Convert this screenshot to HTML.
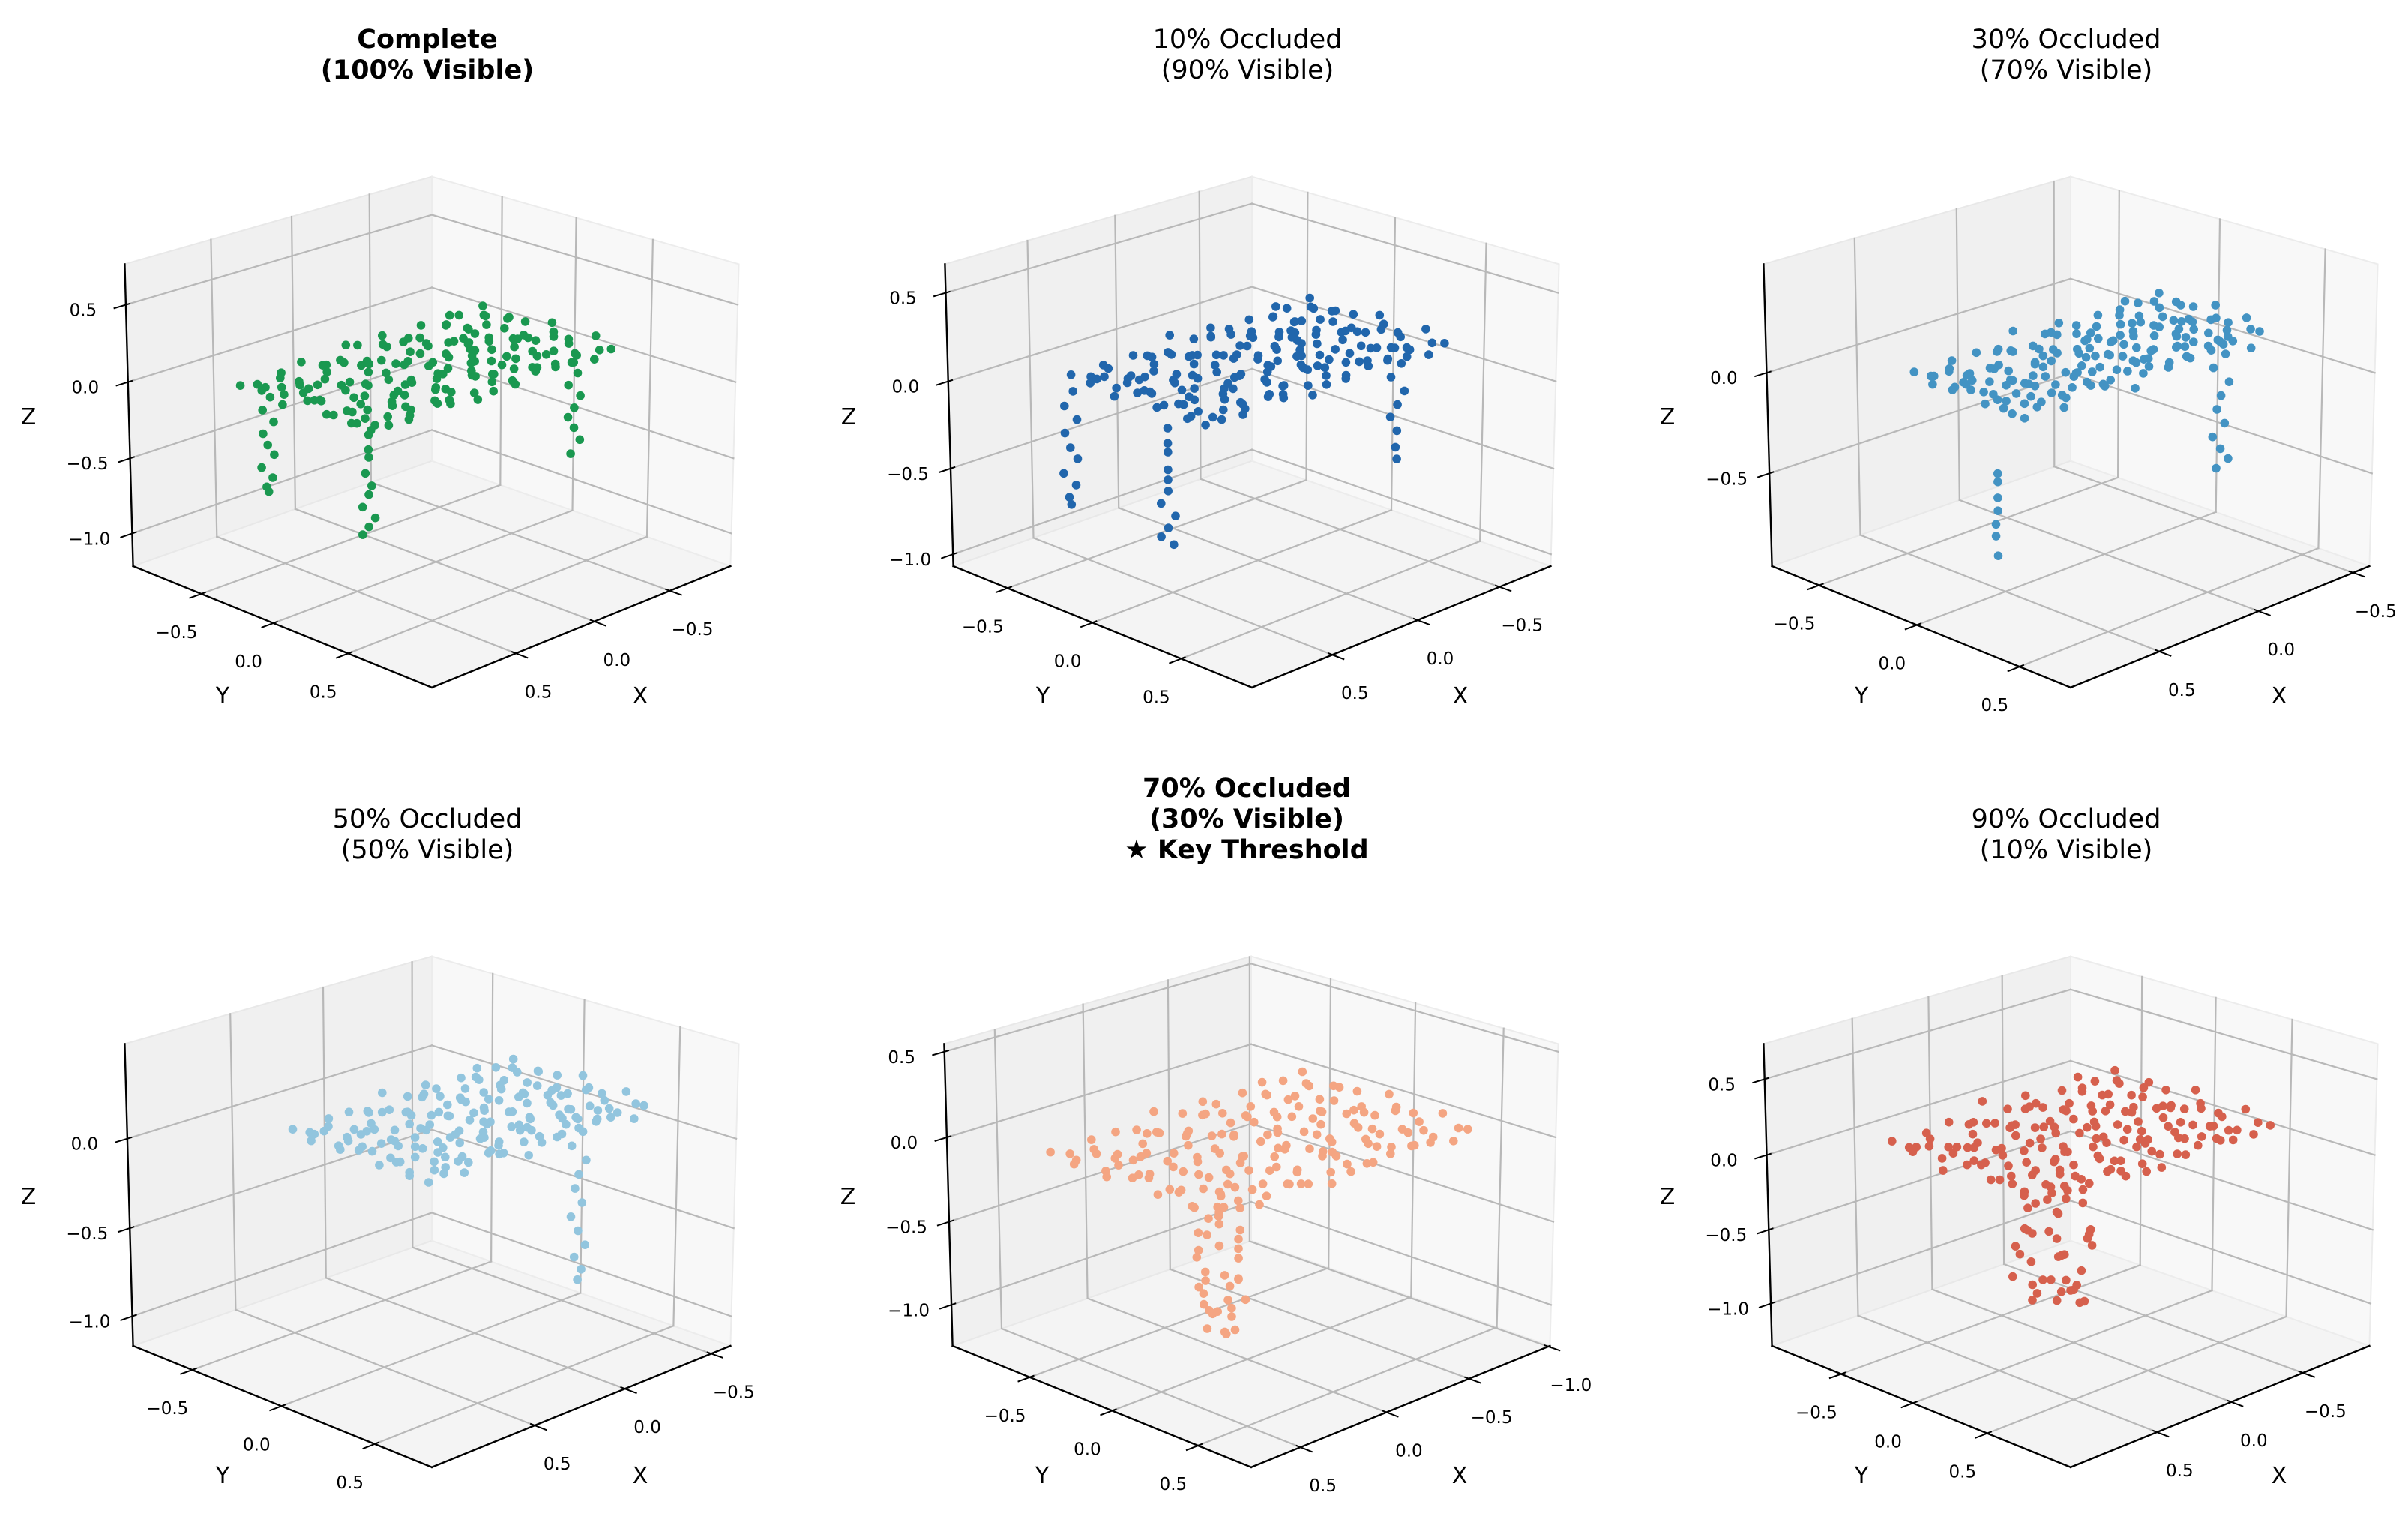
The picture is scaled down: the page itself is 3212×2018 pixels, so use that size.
<!DOCTYPE html>
<html><head><meta charset="utf-8"><title>Point cloud occlusion levels</title>
<style>html,body{margin:0;padding:0;background:#fff}svg{display:block}text{font-family:"DejaVu Sans","Liberation Sans",sans-serif}</style>
</head><body>
<svg id="fig" xmlns="http://www.w3.org/2000/svg" width="3212" height="2018" viewBox="0 0 3212 2018">
<rect x="0" y="0" width="3212" height="2018" fill="#ffffff"/>
</svg>
<script>
// ---------- data ----------
const p1XLim=[-0.915,1.015], p1YLim=[-0.99,1.04], p1ZLim=[-1.22,0.76];
const p2XLim=[-0.823,0.953], p2YLim=[-0.83,0.885], p2ZLim=[-1.07,0.66];
const p3XLim=[-0.588,0.927], p3YLim=[-0.75,0.74], p3ZLim=[-0.97,0.53];
const p4XLim=[-0.614,1.044], p4YLim=[-0.844,0.796], p4ZLim=[-1.17,0.52];
const p5XLim=[-1.01,0.777], p5YLim=[-0.987,0.80], p5ZLim=[-1.25,0.545];
const p6XLim=[-0.98,1.06], p6YLim=[-1.0,1.04], p6ZLim=[-1.29,0.73];

const xyTicks=[-0.5,0,0.5];
const p5XTicks=[-1.0,-0.5,0,0.5];
const zTicksFull=[-1.0,-0.5,0,0.5];
const p3ZTicks=[-0.5,0];
const p4ZTicks=[-1.0,-0.5,0];

const p1X=[-0.73,-0.60,-0.49,-0.34,-0.23,-0.08,0.05,0.16,0.31,0.42,0.57,0.68,0.80,
-0.76,-0.62,-0.47,-0.36,-0.21,-0.10,0.03,0.18,0.29,0.44,0.55,0.70,0.78,
-0.72,-0.63,-0.46,-0.33,-0.24,-0.07,0.06,0.15,0.32,0.41,0.58,0.67,0.81,
-0.75,-0.59,-0.50,-0.37,-0.20,-0.11,0.02,0.19,0.28,0.45,0.54,0.71,0.77,
-0.71,-0.64,-0.48,-0.32,-0.25,-0.08,0.07,0.14,0.33,0.40,0.59,0.66,0.80,
-0.77,-0.60,-0.45,-0.36,-0.19,-0.12,0.05,0.20,0.27,0.46,0.53,0.72,0.76,
-0.73,-0.62,-0.49,-0.34,-0.23,-0.06,0.03,0.18,0.31,0.42,0.57,0.68,0.79,
0.70,0.73,0.69,0.72,0.71,0.68,0.74,0.70,0.72,0.69,
0.70,0.72,0.69,0.73,0.71,0.70,0.72,0.68,0.71,0.73,
-0.59,-0.61,-0.58,-0.62,-0.60,-0.59,-0.61,-0.63,-0.58,
-0.60,-0.58,-0.61,-0.59];
const p1Y=[-0.44,-0.47,-0.42,-0.46,-0.43,-0.45,-0.48,-0.44,-0.41,-0.46,-0.43,-0.47,-0.45,
-0.29,-0.32,-0.27,-0.31,-0.33,-0.28,-0.30,-0.26,-0.31,-0.29,-0.33,-0.28,-0.30,
-0.14,-0.17,-0.12,-0.16,-0.13,-0.18,-0.15,-0.11,-0.16,-0.14,-0.17,-0.13,-0.15,
0.01,-0.02,0.03,-0.01,0.02,-0.03,0.00,0.04,-0.02,0.01,0.03,-0.01,0.02,
0.16,0.13,0.17,0.14,0.18,0.15,0.12,0.16,0.14,0.17,0.13,0.15,0.18,
0.28,0.31,0.27,0.30,0.32,0.26,0.29,0.31,0.28,0.32,0.27,0.30,0.29,
0.42,0.45,0.41,0.44,0.43,0.46,0.41,0.44,0.42,0.45,0.43,0.41,0.44,
-0.36,-0.38,-0.35,-0.39,-0.37,-0.36,-0.38,-0.35,-0.37,-0.39,
0.30,0.32,0.29,0.31,0.33,0.30,0.28,0.32,0.31,0.29,
0.30,0.32,0.29,0.33,0.31,0.28,0.30,0.32,0.31,
-0.36,-0.38,-0.37,-0.35];
const p1Z=[0.10,0.07,0.12,0.09,0.05,0.11,0.08,0.13,0.06,0.10,0.09,0.04,0.08,
0.06,0.11,0.08,0.13,0.09,0.05,0.12,0.07,0.10,0.14,0.06,0.09,0.11,
0.09,0.13,0.05,0.10,0.12,0.08,0.06,0.11,0.14,0.07,0.10,0.12,0.06,
0.12,0.08,0.10,0.06,0.13,0.09,0.11,0.05,0.08,0.12,0.07,0.10,0.13,
0.07,0.10,0.14,0.08,0.06,0.12,0.09,0.13,0.05,0.11,0.08,0.06,0.10,
0.11,0.06,0.09,0.12,0.10,0.07,0.13,0.08,0.11,0.06,0.12,0.09,0.07,
0.08,0.12,0.07,0.10,0.13,0.09,0.06,0.11,0.08,0.13,0.10,0.07,0.12,
0.0,-0.08,-0.16,-0.24,-0.31,-0.38,-0.45,-0.52,-0.58,-0.63,
-0.02,-0.10,-0.17,-0.25,-0.33,-0.40,-0.48,-0.55,-0.60,-0.65,
0.0,-0.07,-0.15,-0.22,-0.30,-0.37,-0.44,-0.52,-0.60,
-0.02,-0.08,-0.14,-0.20];
const p1LowerX=[-0.68,-0.54,-0.43,-0.28,-0.16,-0.01,0.10,0.25,0.36,0.51,0.62,0.75,
-0.66,-0.56,-0.41,-0.30,-0.14,-0.03,0.12,0.23,0.38,0.49,0.64,0.73,
-0.67,-0.55,-0.42,-0.29,-0.15,-0.02,0.11,0.24,0.37,0.50,0.63,0.74,
-0.69,-0.53,-0.44,-0.27,-0.17,0.00,0.09,0.26,0.35,0.52,0.61,0.76,
-0.65,-0.57,-0.40,-0.31,-0.13,-0.04,0.13,0.22,0.39,0.48,0.65,0.72,
-0.68,-0.54,-0.43,-0.28,-0.16,-0.01,0.10,0.25,0.36,0.51,0.62,0.75];
const p1LowerY=[-0.37,-0.35,-0.38,-0.36,-0.39,-0.37,-0.36,-0.38,-0.35,-0.37,-0.38,-0.36,
-0.22,-0.24,-0.21,-0.23,-0.20,-0.22,-0.24,-0.21,-0.23,-0.22,-0.20,-0.23,
-0.07,-0.05,-0.08,-0.06,-0.09,-0.07,-0.05,-0.08,-0.06,-0.07,-0.09,-0.06,
0.08,0.10,0.07,0.09,0.06,0.08,0.10,0.07,0.09,0.08,0.06,0.09,
0.22,0.20,0.23,0.21,0.24,0.22,0.20,0.23,0.21,0.22,0.24,0.21,
0.36,0.38,0.35,0.37,0.34,0.36,0.38,0.35,0.37,0.36,0.34,0.37];
const p1LowerZ=[0.07,0.04,0.09,0.02,0.06,0.10,0.03,0.08,0.05,0.01,0.09,0.06,
0.04,0.09,0.02,0.06,0.10,0.03,0.08,0.05,0.01,0.09,0.06,0.07,
0.02,0.06,0.10,0.03,0.08,0.05,0.01,0.09,0.06,0.07,0.04,0.09,
0.10,0.03,0.08,0.05,0.01,0.09,0.06,0.07,0.04,0.09,0.02,0.06,
0.08,0.05,0.01,0.09,0.06,0.07,0.04,0.09,0.02,0.06,0.10,0.03,
0.01,0.09,0.06,0.07,0.04,0.09,0.02,0.06,0.10,0.03,0.08,0.05];

const p2X=[-0.69,-0.57,-0.47,-0.33,-0.23,-0.09,0.03,0.13,0.27,0.37,0.51,0.60,0.70,
-0.71,-0.59,-0.45,-0.35,-0.21,-0.11,0.01,0.15,0.25,0.39,0.49,0.62,0.69,
-0.68,-0.58,-0.44,-0.32,-0.24,-0.08,0.04,0.12,0.28,0.36,0.52,0.59,0.71,
-0.70,-0.56,-0.48,-0.34,-0.20,-0.12,0.02,0.16,0.24,0.40,0.48,0.63,0.68,
-0.67,-0.60,-0.46,-0.31,-0.23,-0.07,0.05,0.11,0.29,0.35,0.53,0.58,0.70,
-0.72,-0.57,-0.43,-0.36,-0.19,-0.13,0.03,0.17,0.23,0.41,0.47,0.64,0.67,
-0.69,-0.59,-0.47,-0.33,-0.22,-0.06,0.00,0.14,0.27,0.38,0.50,0.61,0.69,
0.70,0.73,0.69,0.72,0.71,0.68,0.74,0.70,0.72,0.69,
0.70,0.72,0.69,0.73,0.71,0.70,0.72,0.68,0.71,0.73,0.70,
-0.63,-0.65,-0.62,-0.66,-0.64,-0.63,-0.65,-0.62,-0.64,
-0.64,-0.62,-0.65,-0.63];
const p2Y=[-0.36,-0.38,-0.35,-0.37,-0.39,-0.36,-0.34,-0.38,-0.37,-0.35,-0.38,-0.36,-0.37,
-0.23,-0.26,-0.22,-0.25,-0.24,-0.21,-0.26,-0.23,-0.25,-0.22,-0.24,-0.26,-0.23,
-0.10,-0.13,-0.09,-0.12,-0.11,-0.14,-0.10,-0.08,-0.12,-0.11,-0.13,-0.09,-0.11,
0.03,0.00,0.04,0.01,0.03,-0.01,0.02,0.05,0.00,0.02,0.04,0.01,0.03,
0.16,0.13,0.17,0.14,0.18,0.15,0.12,0.16,0.14,0.17,0.13,0.15,0.16,
0.27,0.30,0.26,0.29,0.31,0.25,0.28,0.30,0.27,0.31,0.26,0.29,0.28,
0.40,0.42,0.39,0.41,0.40,0.43,0.38,0.41,0.40,0.42,0.41,0.39,0.42,
-0.36,-0.38,-0.35,-0.39,-0.37,-0.36,-0.38,-0.35,-0.37,-0.39,
0.18,0.20,0.17,0.21,0.19,0.18,0.16,0.20,0.19,0.17,0.21,
0.18,0.20,0.17,0.21,0.19,0.16,0.18,0.20,0.19,
-0.36,-0.38,-0.37,-0.35];
const p2Z=[0.12,0.09,0.14,0.10,0.07,0.13,0.11,0.15,0.08,0.12,0.10,0.07,0.11,
0.08,0.13,0.10,0.15,0.11,0.07,0.14,0.09,0.12,0.16,0.08,0.11,0.13,
0.11,0.15,0.07,0.12,0.14,0.10,0.08,0.13,0.16,0.09,0.12,0.14,0.08,
0.14,0.10,0.12,0.08,0.15,0.11,0.13,0.07,0.10,0.14,0.09,0.12,0.15,
0.09,0.12,0.16,0.10,0.08,0.14,0.11,0.15,0.07,0.13,0.10,0.08,0.12,
0.13,0.08,0.11,0.14,0.12,0.09,0.15,0.10,0.13,0.08,0.14,0.11,0.09,
0.10,0.14,0.09,0.12,0.15,0.11,0.08,0.13,0.10,0.15,0.12,0.09,0.14,
0.02,-0.06,-0.14,-0.22,-0.30,-0.37,-0.44,-0.51,-0.58,-0.64,
0.0,-0.07,-0.14,-0.21,-0.28,-0.35,-0.42,-0.49,-0.55,-0.60,-0.64,
0.02,-0.07,-0.15,-0.23,-0.31,-0.39,-0.47,-0.55,-0.63,
0.0,-0.07,-0.14,-0.20];
const p2LowerX=[-0.65,-0.51,-0.41,-0.27,-0.17,-0.03,0.07,0.21,0.31,0.45,0.54,0.67,
-0.63,-0.53,-0.39,-0.29,-0.15,-0.05,0.09,0.19,0.33,0.43,0.56,0.65,
-0.64,-0.52,-0.40,-0.28,-0.16,-0.04,0.08,0.20,0.32,0.44,0.55,0.66,
-0.66,-0.50,-0.42,-0.26,-0.18,-0.02,0.06,0.22,0.30,0.46,0.53,0.68,
-0.62,-0.54,-0.38,-0.30,-0.14,-0.06,0.10,0.18,0.34,0.42,0.57,0.64,
-0.65,-0.51,-0.41,-0.27,-0.17,-0.03,0.07,0.21,0.31,0.45,0.54,0.67];
const p2LowerY=[-0.30,-0.28,-0.31,-0.29,-0.32,-0.30,-0.28,-0.31,-0.29,-0.30,-0.32,-0.29,
-0.17,-0.15,-0.18,-0.16,-0.19,-0.17,-0.15,-0.18,-0.16,-0.17,-0.19,-0.16,
-0.04,-0.02,-0.05,-0.03,-0.06,-0.04,-0.02,-0.05,-0.03,-0.04,-0.06,-0.03,
0.09,0.11,0.08,0.10,0.07,0.09,0.11,0.08,0.10,0.09,0.07,0.10,
0.22,0.24,0.21,0.23,0.20,0.22,0.24,0.21,0.23,0.22,0.20,0.23,
0.35,0.37,0.34,0.36,0.33,0.35,0.37,0.34,0.36,0.35,0.33,0.36];
const p2LowerZ=[0.09,0.06,0.11,0.04,0.08,0.12,0.05,0.10,0.07,0.03,0.11,0.08,
0.06,0.11,0.04,0.08,0.12,0.05,0.10,0.07,0.03,0.11,0.08,0.09,
0.04,0.08,0.12,0.05,0.10,0.07,0.03,0.11,0.08,0.09,0.06,0.11,
0.12,0.05,0.10,0.07,0.03,0.11,0.08,0.09,0.06,0.11,0.04,0.08,
0.10,0.07,0.03,0.11,0.08,0.09,0.06,0.11,0.04,0.08,0.12,0.05,
0.03,0.11,0.08,0.09,0.06,0.11,0.04,0.08,0.12,0.05,0.10,0.07];

const p3X=[-0.55,-0.46,-0.36,-0.24,-0.15,-0.03,0.06,0.18,0.27,0.39,0.48,0.60,0.67,
-0.57,-0.45,-0.34,-0.26,-0.13,-0.05,0.08,0.16,0.29,0.37,0.50,0.58,0.68,
-0.54,-0.47,-0.35,-0.23,-0.16,-0.02,0.05,0.19,0.26,0.40,0.47,0.61,0.66,
-0.56,-0.44,-0.37,-0.25,-0.12,-0.06,0.09,0.15,0.30,0.36,0.51,0.57,0.69,
-0.53,-0.46,-0.33,-0.27,-0.14,-0.01,0.06,0.20,0.25,0.41,0.46,0.62,0.65,
-0.55,-0.43,-0.36,-0.22,-0.15,-0.04,0.10,0.14,0.31,0.35,0.52,0.56,0.68,
-0.52,-0.45,-0.34,-0.24,-0.13,-0.03,0.07,0.17,0.28,0.38,0.49,0.59,0.67,
-0.41,-0.43,-0.40,-0.44,-0.42,-0.41,-0.43,-0.40,-0.42,-0.44,-0.41,
0.70,0.70,0.71,0.70,0.70,0.71,0.70];
const p3Y=[-0.26,-0.28,-0.25,-0.27,-0.29,-0.26,-0.24,-0.28,-0.27,-0.25,-0.28,-0.26,-0.27,
-0.17,-0.19,-0.16,-0.18,-0.17,-0.15,-0.19,-0.17,-0.18,-0.16,-0.17,-0.19,-0.16,
-0.08,-0.10,-0.07,-0.09,-0.08,-0.11,-0.09,-0.07,-0.10,-0.08,-0.10,-0.07,-0.09,
0.01,-0.01,0.02,0.00,0.02,-0.02,0.01,0.03,-0.01,0.01,0.02,0.00,0.01,
0.10,0.08,0.11,0.09,0.10,0.08,0.07,0.10,0.09,0.11,0.08,0.09,0.10,
0.17,0.19,0.16,0.18,0.20,0.17,0.18,0.19,0.16,0.18,0.17,0.19,0.18,
0.26,0.28,0.25,0.27,0.26,0.28,0.25,0.27,0.26,0.28,0.27,0.25,0.27,
0.16,0.18,0.15,0.19,0.17,0.16,0.18,0.15,0.17,0.19,0.16,
0.17,0.17,0.18,0.17,0.16,0.17,0.17];
const p3Z=[0.09,0.06,0.11,0.07,0.04,0.10,0.08,0.12,0.05,0.09,0.07,0.04,0.08,
0.05,0.10,0.07,0.12,0.08,0.04,0.11,0.06,0.09,0.13,0.05,0.08,0.10,
0.08,0.12,0.04,0.09,0.11,0.07,0.05,0.10,0.13,0.06,0.09,0.11,0.05,
0.11,0.07,0.09,0.05,0.12,0.08,0.10,0.04,0.07,0.11,0.06,0.09,0.12,
0.06,0.09,0.13,0.07,0.05,0.11,0.08,0.12,0.04,0.10,0.07,0.05,0.09,
0.10,0.05,0.08,0.11,0.09,0.06,0.12,0.07,0.10,0.05,0.11,0.08,0.06,
0.07,0.11,0.06,0.09,0.12,0.08,0.05,0.10,0.07,0.12,0.09,0.06,0.11,
0.03,-0.04,-0.11,-0.18,-0.25,-0.32,-0.39,-0.46,-0.52,-0.57,-0.62,
-0.25,-0.29,-0.36,-0.43,-0.50,-0.55,-0.65];
const p3LowerX=[-0.51,-0.39,-0.31,-0.18,-0.10,0.02,0.11,0.23,0.32,0.44,0.53,0.64,
-0.49,-0.41,-0.29,-0.20,-0.08,0.00,0.13,0.21,0.34,0.42,0.55,0.62,
-0.50,-0.40,-0.30,-0.19,-0.09,0.01,0.12,0.22,0.33,0.43,0.54,0.63,
-0.52,-0.38,-0.32,-0.17,-0.11,0.03,0.10,0.24,0.31,0.45,0.52,0.65,
-0.48,-0.42,-0.28,-0.21,-0.07,-0.01,0.14,0.20,0.35,0.41,0.56,0.61,
-0.51,-0.39,-0.31,-0.18,-0.10,0.02,0.11,0.23,0.32,0.44,0.53,0.64];
const p3LowerY=[-0.22,-0.20,-0.23,-0.21,-0.24,-0.22,-0.20,-0.23,-0.21,-0.22,-0.24,-0.21,
-0.13,-0.11,-0.14,-0.12,-0.15,-0.13,-0.11,-0.14,-0.12,-0.13,-0.15,-0.12,
-0.04,-0.02,-0.05,-0.03,-0.06,-0.04,-0.02,-0.05,-0.03,-0.04,-0.06,-0.03,
0.05,0.07,0.04,0.06,0.03,0.05,0.07,0.04,0.06,0.05,0.03,0.06,
0.14,0.16,0.13,0.15,0.12,0.14,0.16,0.13,0.15,0.14,0.12,0.15,
0.23,0.25,0.22,0.24,0.21,0.23,0.25,0.22,0.24,0.23,0.21,0.24];
const p3LowerZ=[0.04,0.01,0.06,-0.01,0.03,0.07,0.00,0.05,0.02,-0.02,0.06,0.03,
0.01,0.06,-0.01,0.03,0.07,0.00,0.05,0.02,-0.02,0.06,0.03,0.04,
-0.01,0.03,0.07,0.00,0.05,0.02,-0.02,0.06,0.03,0.04,0.01,0.06,
0.07,0.00,0.05,0.02,-0.02,0.06,0.03,0.04,0.01,0.06,-0.01,0.03,
0.05,0.02,-0.02,0.06,0.03,0.04,0.01,0.06,-0.01,0.03,0.07,0.00,
-0.02,0.06,0.03,0.04,0.01,0.06,-0.01,0.03,0.07,0.00,0.05,0.02];

const p4X=[-0.59,-0.51,-0.37,-0.30,-0.18,-0.09,0.03,0.13,0.22,0.34,0.42,0.54,0.62,
-0.61,-0.49,-0.40,-0.27,-0.20,-0.07,0.01,0.14,0.21,0.35,0.41,0.55,0.63,
-0.58,-0.50,-0.38,-0.28,-0.17,-0.10,0.04,0.11,0.24,0.32,0.45,0.52,0.61,
-0.60,-0.48,-0.41,-0.29,-0.21,-0.06,0.02,0.12,0.25,0.31,0.44,0.51,0.63,
-0.57,-0.51,-0.36,-0.31,-0.16,-0.08,0.05,0.10,0.22,0.36,0.41,0.56,0.60,
-0.59,-0.47,-0.39,-0.26,-0.19,-0.05,0.03,0.15,0.20,0.34,0.46,0.50,0.62,
-0.56,-0.49,-0.38,-0.28,-0.18,-0.07,0.01,0.13,0.23,0.32,0.43,0.54,0.61,
-0.30,-0.32,-0.29,-0.33,-0.31,-0.30,-0.32,-0.29,-0.31,-0.33,-0.30,-0.32,-0.31];
const p4Y=[-0.36,-0.38,-0.35,-0.37,-0.39,-0.36,-0.34,-0.38,-0.37,-0.35,-0.38,-0.36,-0.37,
-0.24,-0.27,-0.23,-0.26,-0.25,-0.22,-0.27,-0.24,-0.26,-0.23,-0.25,-0.27,-0.24,
-0.11,-0.14,-0.10,-0.13,-0.12,-0.15,-0.11,-0.09,-0.13,-0.12,-0.14,-0.10,-0.12,
0.01,-0.02,0.02,0.00,0.03,-0.01,0.01,0.03,-0.02,0.01,0.02,0.00,0.02,
0.14,0.11,0.15,0.12,0.14,0.12,0.11,0.14,0.13,0.15,0.12,0.13,0.14,
0.25,0.27,0.24,0.26,0.28,0.25,0.26,0.27,0.24,0.26,0.25,0.27,0.26,
0.37,0.39,0.36,0.38,0.37,0.39,0.36,0.38,0.37,0.39,0.38,0.36,0.38,
0.25,0.27,0.24,0.28,0.26,0.25,0.27,0.24,0.26,0.28,0.25,0.27,0.26];
const p4Z=[0.08,0.05,0.10,0.06,0.03,0.09,0.07,0.11,0.04,0.08,0.06,0.03,0.07,
0.04,0.09,0.06,0.11,0.07,0.03,0.10,0.05,0.08,0.12,0.04,0.07,0.09,
0.07,0.11,0.03,0.08,0.10,0.06,0.04,0.09,0.12,0.05,0.08,0.10,0.04,
0.10,0.06,0.08,0.04,0.11,0.07,0.09,0.03,0.06,0.10,0.05,0.08,0.11,
0.05,0.08,0.12,0.06,0.04,0.10,0.07,0.11,0.03,0.09,0.06,0.04,0.08,
0.09,0.04,0.07,0.10,0.08,0.05,0.11,0.06,0.09,0.04,0.10,0.07,0.05,
0.06,0.10,0.05,0.08,0.11,0.07,0.04,0.09,0.06,0.11,0.08,0.05,0.10,
0.04,-0.04,-0.12,-0.20,-0.28,-0.36,-0.44,-0.52,-0.60,-0.68,-0.75,-0.82,-0.88];
const p4LowerX=[-0.56,-0.44,-0.35,-0.23,-0.14,-0.02,0.06,0.19,0.27,0.39,0.47,0.59,
-0.54,-0.46,-0.33,-0.25,-0.12,-0.04,0.08,0.17,0.29,0.37,0.49,0.57,
-0.55,-0.45,-0.34,-0.24,-0.13,-0.03,0.07,0.18,0.28,0.38,0.48,0.58,
-0.57,-0.43,-0.36,-0.22,-0.15,-0.01,0.05,0.20,0.26,0.40,0.46,0.60,
-0.53,-0.47,-0.32,-0.26,-0.11,-0.05,0.09,0.16,0.30,0.36,0.50,0.56,
-0.56,-0.44,-0.35,-0.23,-0.14,-0.02,0.06,0.19,0.27,0.39,0.47,0.59];
const p4LowerY=[-0.31,-0.29,-0.32,-0.30,-0.33,-0.31,-0.29,-0.32,-0.30,-0.31,-0.33,-0.30,
-0.18,-0.16,-0.19,-0.17,-0.20,-0.18,-0.16,-0.19,-0.17,-0.18,-0.20,-0.17,
-0.06,-0.04,-0.07,-0.05,-0.08,-0.06,-0.04,-0.07,-0.05,-0.06,-0.08,-0.05,
0.07,0.09,0.06,0.08,0.05,0.07,0.09,0.06,0.08,0.07,0.05,0.08,
0.19,0.21,0.18,0.20,0.17,0.19,0.21,0.18,0.20,0.19,0.17,0.20,
0.32,0.34,0.31,0.33,0.30,0.32,0.34,0.31,0.33,0.32,0.30,0.33];
const p4LowerZ=[0.03,0.00,0.05,-0.02,0.02,0.06,-0.01,0.04,0.01,-0.03,0.05,0.02,
0.00,0.05,-0.02,0.02,0.06,-0.01,0.04,0.01,-0.03,0.05,0.02,0.03,
-0.02,0.02,0.06,-0.01,0.04,0.01,-0.03,0.05,0.02,0.03,0.00,0.05,
0.06,-0.01,0.04,0.01,-0.03,0.05,0.02,0.03,0.00,0.05,-0.02,0.02,
0.04,0.01,-0.03,0.05,0.02,0.03,0.00,0.05,-0.02,0.02,0.06,-0.01,
-0.03,0.05,0.02,0.03,0.00,0.05,-0.02,0.02,0.06,-0.01,0.04,0.01];

const p5X=[-0.94,-0.84,-0.68,-0.58,-0.44,-0.33,-0.19,-0.06,0.05,0.19,0.30,0.44,0.54,
-0.96,-0.82,-0.71,-0.56,-0.46,-0.31,-0.21,-0.08,0.07,0.17,0.32,0.42,0.56,
-0.93,-0.85,-0.69,-0.59,-0.43,-0.34,-0.18,-0.09,0.08,0.16,0.33,0.41,0.54,
-0.95,-0.81,-0.72,-0.55,-0.47,-0.30,-0.22,-0.05,0.04,0.20,0.29,0.45,0.53,
-0.92,-0.84,-0.67,-0.60,-0.42,-0.35,-0.17,-0.10,0.06,0.21,0.28,0.46,0.52,
-0.94,-0.80,-0.70,-0.54,-0.45,-0.29,-0.20,-0.04,0.09,0.15,0.34,0.40,0.55,
-0.91,-0.83,-0.69,-0.57,-0.44,-0.31,-0.21,-0.07,0.05,0.18,0.30,0.43,0.54,
0.30,0.38,0.27,0.35,0.41,0.29,0.33,0.37,0.25,0.40,0.31,0.36,0.28,0.34,0.39,0.30,0.33,0.26,0.37,0.32];
const p5Y=[-0.60,-0.62,-0.59,-0.61,-0.63,-0.60,-0.58,-0.62,-0.61,-0.59,-0.62,-0.60,-0.61,
-0.43,-0.46,-0.42,-0.45,-0.44,-0.41,-0.46,-0.43,-0.45,-0.42,-0.44,-0.46,-0.43,
-0.26,-0.29,-0.25,-0.28,-0.27,-0.30,-0.26,-0.24,-0.28,-0.27,-0.29,-0.25,-0.27,
-0.09,-0.12,-0.08,-0.11,-0.08,-0.12,-0.10,-0.07,-0.12,-0.09,-0.08,-0.11,-0.09,
0.08,0.05,0.09,0.06,0.08,0.06,0.05,0.08,0.07,0.09,0.06,0.07,0.08,
0.23,0.25,0.22,0.24,0.26,0.23,0.24,0.25,0.22,0.24,0.23,0.25,0.24,
0.40,0.42,0.39,0.41,0.40,0.42,0.39,0.41,0.40,0.42,0.41,0.39,0.41,
0.15,0.22,0.10,0.19,0.13,0.24,0.17,0.09,0.20,0.16,0.26,0.12,0.18,0.23,0.14,0.21,0.11,0.17,0.25,0.19];
const p5Z=[-0.03,-0.06,-0.01,-0.05,-0.08,-0.02,-0.04,0.00,-0.07,-0.03,-0.05,-0.08,-0.04,
-0.07,-0.02,-0.05,0.00,-0.04,-0.08,-0.01,-0.06,-0.03,0.01,-0.07,-0.04,-0.02,
-0.04,0.00,-0.08,-0.03,-0.01,-0.05,-0.07,-0.02,0.01,-0.06,-0.03,-0.01,-0.07,
-0.01,-0.05,-0.03,-0.07,0.00,-0.04,-0.02,-0.08,-0.05,-0.01,-0.06,-0.03,0.00,
-0.06,-0.03,0.01,-0.05,-0.07,-0.01,-0.04,0.00,-0.08,-0.02,-0.05,-0.07,-0.03,
-0.02,-0.07,-0.04,-0.01,-0.03,-0.06,0.00,-0.05,-0.02,-0.07,-0.01,-0.04,-0.06,
-0.05,-0.01,-0.06,-0.03,0.00,-0.04,-0.07,-0.02,-0.05,0.00,-0.03,-0.06,-0.01,
-0.12,-0.16,-0.21,-0.25,-0.30,-0.34,-0.39,-0.43,-0.48,-0.52,-0.56,-0.60,-0.64,-0.68,-0.72,-0.75,-0.79,-0.83,-0.86,-0.89];
const p5LowerX=[-0.90,-0.75,-0.65,-0.50,-0.39,-0.25,-0.14,0.01,0.11,0.26,0.36,0.50,
-0.88,-0.77,-0.63,-0.52,-0.37,-0.27,-0.12,-0.01,0.13,0.24,0.38,0.48,
-0.89,-0.76,-0.64,-0.51,-0.38,-0.26,-0.13,0.00,0.12,0.25,0.37,0.49,
-0.91,-0.74,-0.66,-0.49,-0.40,-0.24,-0.15,0.02,0.10,0.27,0.35,0.51,
-0.87,-0.78,-0.62,-0.53,-0.36,-0.28,-0.11,-0.02,0.14,0.23,0.39,0.47,
-0.90,-0.75,-0.65,-0.50,-0.39,-0.25,-0.14,0.01,0.11,0.26,0.36,0.50];
const p5LowerY=[-0.52,-0.50,-0.53,-0.51,-0.54,-0.52,-0.50,-0.53,-0.51,-0.52,-0.54,-0.51,
-0.35,-0.33,-0.36,-0.34,-0.37,-0.35,-0.33,-0.36,-0.34,-0.35,-0.37,-0.34,
-0.18,-0.16,-0.19,-0.17,-0.20,-0.18,-0.16,-0.19,-0.17,-0.18,-0.20,-0.17,
-0.01,0.01,-0.02,0.00,-0.03,-0.01,0.01,-0.02,0.00,-0.01,-0.03,0.00,
0.16,0.18,0.15,0.17,0.14,0.16,0.18,0.15,0.17,0.16,0.14,0.17,
0.33,0.35,0.32,0.34,0.31,0.33,0.35,0.32,0.34,0.33,0.31,0.34];
const p5LowerZ=[-0.08,-0.11,-0.06,-0.13,-0.09,-0.05,-0.12,-0.07,-0.10,-0.14,-0.06,-0.09,
-0.11,-0.06,-0.13,-0.09,-0.05,-0.12,-0.07,-0.10,-0.14,-0.06,-0.09,-0.08,
-0.13,-0.09,-0.05,-0.12,-0.07,-0.10,-0.14,-0.06,-0.09,-0.08,-0.11,-0.06,
-0.05,-0.12,-0.07,-0.10,-0.14,-0.06,-0.09,-0.08,-0.11,-0.06,-0.13,-0.09,
-0.07,-0.10,-0.14,-0.06,-0.09,-0.08,-0.11,-0.06,-0.13,-0.09,-0.05,-0.12,
-0.14,-0.06,-0.09,-0.08,-0.11,-0.06,-0.13,-0.09,-0.05,-0.12,-0.07,-0.10];
const p5LegX=[0.24,0.42,0.31,0.36,0.27,0.39,0.33,0.29,0.44,0.35,0.26,0.38,0.32,0.41,0.30];
const p5LegY=[0.08,0.20,0.27,0.13,0.22,0.10,0.28,0.16,0.19,0.07,0.25,0.21,0.12,0.18,0.23];
const p5LegZ=[-0.14,-0.19,-0.27,-0.33,-0.41,-0.46,-0.54,-0.58,-0.62,-0.66,-0.70,-0.74,-0.81,-0.84,-0.87];

const p6X=[-0.78,-0.67,-0.51,-0.42,-0.27,-0.16,-0.02,0.11,0.21,0.36,0.47,0.61,0.71,
-0.80,-0.64,-0.54,-0.39,-0.29,-0.13,-0.04,0.12,0.20,0.37,0.46,0.62,0.73,
-0.77,-0.68,-0.52,-0.40,-0.26,-0.17,-0.01,0.09,0.24,0.34,0.50,0.58,0.72,
-0.79,-0.65,-0.55,-0.41,-0.30,-0.14,-0.05,0.11,0.23,0.33,0.49,0.61,0.70,
-0.76,-0.67,-0.51,-0.43,-0.27,-0.15,-0.02,0.08,0.22,0.36,0.46,0.62,0.71,
-0.78,-0.64,-0.54,-0.40,-0.28,-0.13,-0.04,0.10,0.21,0.35,0.48,0.59,0.72,
-0.77,-0.66,-0.52,-0.41,-0.29,-0.16,-0.03,0.12,0.22,0.34,0.47,0.60,0.71,
0.45,0.62,0.38,0.55,0.70,0.48,0.60,0.41,0.66,0.52,0.57,0.44,0.68,0.50,0.63,0.47,0.58,0.53,0.42,0.65,0.56,0.49];
const p6Y=[-0.49,-0.52,-0.48,-0.50,-0.53,-0.49,-0.47,-0.51,-0.50,-0.48,-0.52,-0.49,-0.50,
-0.31,-0.34,-0.30,-0.33,-0.32,-0.29,-0.34,-0.31,-0.33,-0.30,-0.32,-0.34,-0.31,
-0.13,-0.16,-0.12,-0.15,-0.14,-0.17,-0.13,-0.11,-0.15,-0.14,-0.16,-0.12,-0.14,
0.05,0.02,0.06,0.03,0.05,0.01,0.04,0.07,0.02,0.04,0.06,0.03,0.05,
0.23,0.20,0.24,0.21,0.23,0.21,0.20,0.23,0.22,0.24,0.21,0.22,0.23,
0.39,0.41,0.38,0.40,0.42,0.39,0.40,0.41,0.38,0.40,0.39,0.41,0.40,
0.56,0.58,0.55,0.57,0.56,0.58,0.55,0.57,0.56,0.58,0.57,0.55,0.57,
0.30,0.52,0.44,0.25,0.40,0.58,0.33,0.50,0.28,0.46,0.62,0.36,0.48,0.22,0.55,0.42,0.31,0.60,0.27,0.38,0.45,0.53];
const p6Z=[0.15,0.10,0.19,0.12,0.07,0.17,0.13,0.21,0.09,0.16,0.11,0.07,0.14,
0.08,0.17,0.12,0.20,0.13,0.07,0.18,0.10,0.15,0.22,0.08,0.13,0.17,
0.13,0.20,0.06,0.14,0.18,0.11,0.08,0.16,0.21,0.09,0.14,0.18,0.07,
0.18,0.11,0.15,0.08,0.19,0.13,0.16,0.06,0.11,0.18,0.09,0.14,0.19,
0.09,0.14,0.20,0.10,0.07,0.17,0.12,0.19,0.06,0.15,0.10,0.07,0.13,
0.16,0.07,0.12,0.18,0.14,0.09,0.20,0.11,0.15,0.07,0.17,0.12,0.09,
0.11,0.17,0.09,0.13,0.19,0.12,0.07,0.15,0.10,0.19,0.14,0.08,0.16,
0.02,-0.02,-0.06,-0.10,-0.14,-0.18,-0.22,-0.26,-0.30,-0.34,-0.37,-0.41,-0.44,-0.48,-0.51,-0.54,-0.57,-0.59,-0.61,-0.62,-0.63,-0.64];
const p6LowerX=[-0.73,-0.59,-0.48,-0.33,-0.22,-0.08,0.03,0.17,0.28,0.43,0.53,0.67,
-0.71,-0.61,-0.46,-0.35,-0.20,-0.10,0.05,0.15,0.30,0.41,0.55,0.65,
-0.72,-0.60,-0.47,-0.34,-0.21,-0.09,0.04,0.16,0.29,0.42,0.54,0.66,
-0.74,-0.58,-0.49,-0.32,-0.23,-0.07,0.02,0.18,0.27,0.44,0.52,0.68,
-0.70,-0.62,-0.45,-0.36,-0.19,-0.11,0.06,0.14,0.31,0.40,0.56,0.64,
-0.73,-0.59,-0.48,-0.33,-0.22,-0.08,0.03,0.17,0.28,0.43,0.53,0.67];
const p6LowerY=[-0.41,-0.39,-0.42,-0.40,-0.43,-0.41,-0.39,-0.42,-0.40,-0.41,-0.43,-0.40,
-0.23,-0.21,-0.24,-0.22,-0.25,-0.23,-0.21,-0.24,-0.22,-0.23,-0.25,-0.22,
-0.05,-0.03,-0.06,-0.04,-0.07,-0.05,-0.03,-0.06,-0.04,-0.05,-0.07,-0.04,
0.13,0.15,0.12,0.14,0.11,0.13,0.15,0.12,0.14,0.13,0.11,0.14,
0.31,0.33,0.30,0.32,0.29,0.31,0.33,0.30,0.32,0.31,0.29,0.32,
0.49,0.51,0.48,0.50,0.47,0.49,0.51,0.48,0.50,0.49,0.47,0.50];
const p6LowerZ=[0.10,0.07,0.12,0.05,0.09,0.13,0.06,0.11,0.08,0.04,0.12,0.09,
0.07,0.12,0.05,0.09,0.13,0.06,0.11,0.08,0.04,0.12,0.09,0.10,
0.05,0.09,0.13,0.06,0.11,0.08,0.04,0.12,0.09,0.10,0.07,0.12,
0.13,0.06,0.11,0.08,0.04,0.12,0.09,0.10,0.07,0.12,0.05,0.09,
0.11,0.08,0.04,0.12,0.09,0.10,0.07,0.12,0.05,0.09,0.13,0.06,
0.04,0.12,0.09,0.10,0.07,0.12,0.05,0.09,0.13,0.06,0.11,0.08];
const p6BlobX=[0.40,0.58,0.51,0.67,0.46,0.61,0.54,0.43,0.69,0.49,0.59,0.64,0.52,0.45,0.56];
const p6BlobY=[0.36,0.47,0.26,0.51,0.57,0.29,0.43,0.55,0.34,0.39,0.61,0.24,0.50,0.45,0.32];
const p6BlobZ=[0.00,-0.04,-0.08,-0.12,-0.16,-0.20,-0.24,-0.28,-0.32,-0.39,-0.46,-0.52,-0.56,-0.60,-0.63];

// ---------- rendering ----------
const NS='http://www.w3.org/2000/svg';
const svg=document.getElementById('fig');
const S=142.8, EL=20*Math.PI/180, CE=Math.cos(EL), SE=Math.sin(EL), DIST=37;

const panels=[
 {key:'complete',title:['Complete','(100% Visible)'],bold:true,cx:576,cy:556.5,xl:p1XLim,yl:p1YLim,zl:p1ZLim,xt:xyTicks,yt:xyTicks,zt:zTicksFull,color:'#1a9850',
  X:p1X.concat(p1LowerX),Y:p1Y.concat(p1LowerY),Z:p1Z.concat(p1LowerZ)},
 {key:'occluded-10',title:['10% Occluded','(90% Visible)'],bold:false,cx:1670,cy:556.5,xl:p2XLim,yl:p2YLim,zl:p2ZLim,xt:xyTicks,yt:xyTicks,zt:zTicksFull,color:'#2166ac',
  X:p2X.concat(p2LowerX),Y:p2Y.concat(p2LowerY),Z:p2Z.concat(p2LowerZ)},
 {key:'occluded-30',title:['30% Occluded','(70% Visible)'],bold:false,cx:2762,cy:556.5,xl:p3XLim,yl:p3YLim,zl:p3ZLim,xt:xyTicks,yt:xyTicks,zt:p3ZTicks,color:'#4393c3',
  X:p3X.concat(p3LowerX),Y:p3Y.concat(p3LowerY),Z:p3Z.concat(p3LowerZ)},
 {key:'occluded-50',title:['50% Occluded','(50% Visible)'],bold:false,cx:576,cy:1596.5,xl:p4XLim,yl:p4YLim,zl:p4ZLim,xt:xyTicks,yt:xyTicks,zt:p4ZTicks,color:'#92c5de',
  X:p4X.concat(p4LowerX),Y:p4Y.concat(p4LowerY),Z:p4Z.concat(p4LowerZ)},
 {key:'occluded-70',title:['70% Occluded','(30% Visible)','\u2605 Key Threshold'],bold:true,cx:1669,cy:1596.5,xl:p5XLim,yl:p5YLim,zl:p5ZLim,xt:p5XTicks,yt:xyTicks,zt:zTicksFull,color:'#f4a582',
  X:p5X.concat(p5LowerX,p5LegX),Y:p5Y.concat(p5LowerY,p5LegY),Z:p5Z.concat(p5LowerZ,p5LegZ)},
 {key:'occluded-90',title:['90% Occluded','(10% Visible)'],bold:false,cx:2762,cy:1596.5,xl:p6XLim,yl:p6YLim,zl:p6ZLim,xt:xyTicks,yt:xyTicks,zt:zTicksFull,color:'#d6604d',
  X:p6X.concat(p6LowerX,p6BlobX),Y:p6Y.concat(p6LowerY,p6BlobY),Z:p6Z.concat(p6LowerZ,p6BlobZ)}
];

function mk(tag,attrs,parent){const e=document.createElementNS(NS,tag);for(const k in attrs)e.setAttribute(k,attrs[k]);parent.appendChild(e);return e;}
function fmt(v){const s=Math.abs(v).toFixed(1);return v<-1e-9?'\u2212'+s:s;}

function projector(P){
 return function(x,y,z){
  const u=-2+4*(x-P.xl[0])/(P.xl[1]-P.xl[0]);
  const v=-2+4*(y-P.yl[0])/(P.yl[1]-P.yl[0]);
  const w=-1.5+3*(z-P.zl[0])/(P.zl[1]-P.zl[0]);
  const sx=(v-u)*0.70711, d=(u+v)*0.70711;
  const sy=w*CE-d*SE, dv=d*CE+w*SE, f=DIST/(DIST-dv);
  return [P.cx+S*f*sx, P.cy-S*f*sy, dv];
 };
}

panels.forEach(function(P){
 const pr=projector(P);
 const [x0,x1]=P.xl,[y0,y1]=P.yl,[z0,z1]=P.zl;
 const g=mk('g',{},svg);
 
 
 const poly=pts=>pts.map(p=>{const q=pr(p[0],p[1],p[2]);return q[0].toFixed(1)+','+q[1].toFixed(1);}).join(' ');
 const floor=mk('polygon',{points:poly([[x0,y0,z0],[x1,y0,z0],[x1,y1,z0],[x0,y1,z0]]),fill:'#f4f4f4',stroke:'#ececec','stroke-width':2},g);
 
 
 const lw=mk('polygon',{points:poly([[x0,y0,z0],[x1,y0,z0],[x1,y0,z1],[x0,y0,z1]]),fill:'#f0f0f0',stroke:'#e8e8e8','stroke-width':2},g);
 
 
 const rw=mk('polygon',{points:poly([[x0,y0,z0],[x0,y1,z0],[x0,y1,z1],[x0,y0,z1]]),fill:'#f8f8f8',stroke:'#ececec','stroke-width':2},g);
 
 
 const line=(a,b,st,sw)=>{const p=pr(a[0],a[1],a[2]),q=pr(b[0],b[1],b[2]);return mk('line',{x1:p[0].toFixed(1),y1:p[1].toFixed(1),x2:q[0].toFixed(1),y2:q[1].toFixed(1),stroke:st,'stroke-width':sw,'stroke-linecap':'square'},g);};
 P.xt.forEach(t=>{
  const a=line([t,y0,z0],[t,y1,z0],'#b8b8b8',2.2);
  
  
  const b=line([t,y0,z0],[t,y0,z1],'#b8b8b8',2.2);
  
  
 });
 P.yt.forEach(t=>{
  const a=line([x0,t,z0],[x1,t,z0],'#b8b8b8',2.2);
  
  
  const b=line([x0,t,z0],[x0,t,z1],'#b8b8b8',2.2);
  
  
 });
 P.zt.forEach(t=>{
  const a=line([x0,y0,t],[x1,y0,t],'#b8b8b8',2.2);
  
  
  const b=line([x0,y0,t],[x0,y1,t],'#b8b8b8',2.2);
  
  
 });
 const za=line([x1,y0,z0],[x1,y0,z1],'#000',2.4);
 
 
 const ya=line([x1,y0,z0],[x1,y1,z0],'#000',2.4);
 
 
 const xa=line([x0,y1,z0],[x1,y1,z0],'#000',2.4);
 
 
 const xr=x1-x0, yr=y1-y0;
 const txt=(x,y,size)=>mk('text',{x:x.toFixed(1),y:y.toFixed(1),'font-size':size,'text-anchor':'middle','dominant-baseline':'central',fill:'#000'},g);
 P.zt.forEach(t=>{
  const tk=line([x1+0.035*xr,y0,t],[x1-0.012*xr,y0,t],'#000',2);
  
  
  const p=pr(x1,y0,t);
  const lb=txt(p[0]-57,p[1]+8,23);
  lb.textContent=fmt(t);
  
  
 });
 P.yt.forEach(t=>{
  const tk=line([x1+0.035*xr,t,z0],[x1-0.012*xr,t,z0],'#000',2);
  
  
  const p=pr(x1,t,z0);
  const lb=txt(p[0]-33,p[1]+52,23);
  lb.textContent=fmt(t);
  
  
 });
 P.xt.forEach(t=>{
  const tk=line([t,y1+0.035*yr,z0],[t,y1-0.012*yr,z0],'#000',2);
  
  
  const p=pr(t,y1,z0);
  const lb=txt(p[0]+30,p[1]+52,23);
  lb.textContent=fmt(t);
  
  
 });
 const zl=txt(P.cx-538,P.cy,30);
 zl.textContent='Z';
 
 
 const yl=txt(P.cx-279,P.cy+372,30);
 yl.textContent='Y';
 
 
 const xl=txt(P.cx+278,P.cy+372,30);
 xl.textContent='X';
 
 
 const pts=P.X.map((x,i)=>pr(x,P.Y[i],P.Z[i]));
 pts.sort((a,b)=>a[2]-b[2]);
 pts.forEach(p=>{
  const c=mk('circle',{cx:p[0].toFixed(1),cy:p[1].toFixed(1),r:5.8,fill:P.color},g);
  
  
 });
 const lastBase=P.cy-556.5+105;
 const n=P.title.length;
 P.title.forEach((s,i)=>{
  const t=mk('text',{x:P.cx-6,y:lastBase-(n-1-i)*41,'font-size':35,'font-weight':P.bold?'bold':'normal','text-anchor':'middle',fill:'#000'},g);
  t.textContent=s;
  
  
 });
});
</script>
</body></html>
